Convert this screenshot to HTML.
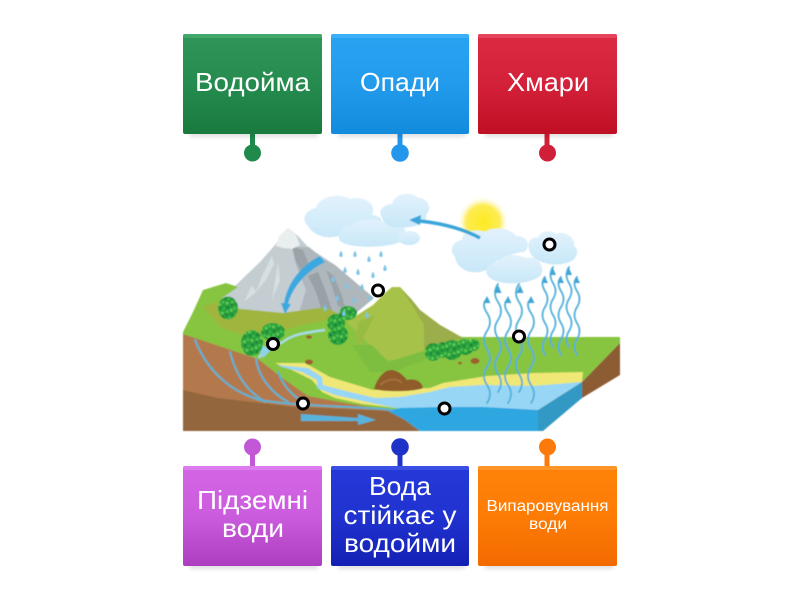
<!DOCTYPE html>
<html><head><meta charset="utf-8"><style>
html,body{margin:0;padding:0;background:#fff;width:800px;height:600px;overflow:hidden}
svg{display:block}
text{font-family:"Liberation Sans",sans-serif;fill:#fff;text-anchor:middle}
</style></head><body>
<svg width="800" height="600" viewBox="0 0 800 600" xmlns="http://www.w3.org/2000/svg">
<defs>
<linearGradient id="g1" x1="0" y1="0" x2="0" y2="1"><stop offset="0" stop-color="#2f9558"/><stop offset=".5" stop-color="#258b4e"/><stop offset="1" stop-color="#1a7a3e"/></linearGradient>
<linearGradient id="g2" x1="0" y1="0" x2="0" y2="1"><stop offset="0" stop-color="#28a3f2"/><stop offset=".5" stop-color="#229bec"/><stop offset="1" stop-color="#128bdc"/></linearGradient>
<linearGradient id="g3" x1="0" y1="0" x2="0" y2="1"><stop offset="0" stop-color="#db2a42"/><stop offset=".5" stop-color="#d4213a"/><stop offset="1" stop-color="#bf0f24"/></linearGradient>
<linearGradient id="g4" x1="0" y1="0" x2="0" y2="1"><stop offset="0" stop-color="#d466e6"/><stop offset=".5" stop-color="#cb5cdd"/><stop offset="1" stop-color="#ac3ebf"/></linearGradient>
<linearGradient id="g5" x1="0" y1="0" x2="0" y2="1"><stop offset="0" stop-color="#2439d8"/><stop offset=".5" stop-color="#2033d0"/><stop offset="1" stop-color="#1420b4"/></linearGradient>
<linearGradient id="g6" x1="0" y1="0" x2="0" y2="1"><stop offset="0" stop-color="#ff8309"/><stop offset=".5" stop-color="#fd7c06"/><stop offset="1" stop-color="#f26a00"/></linearGradient>
<linearGradient id="cl" x1="0" y1="0" x2="0" y2="1"><stop offset="0" stop-color="#e2f2fb"/><stop offset=".55" stop-color="#d3ecfa"/><stop offset="1" stop-color="#c8e7f8"/></linearGradient>
<radialGradient id="sun"><stop offset="0" stop-color="#fdea20"/><stop offset=".65" stop-color="#fdec55"/><stop offset="1" stop-color="#fff" stop-opacity="0"/></radialGradient>
<pattern id="leaf" width="13" height="11" patternUnits="userSpaceOnUse" patternTransform="rotate(27)">
<rect width="13" height="11" fill="#2aa03c"/>
<circle cx="2" cy="2" r="1.500" fill="#5fcb53"/><circle cx="7" cy="1.500" r="1.200" fill="#1a8539"/><circle cx="11" cy="3" r="1.400" fill="#4cc04f"/>
<circle cx="4.500" cy="5.500" r="1.300" fill="#17803a"/><circle cx="9" cy="6.500" r="1.500" fill="#62cc55"/><circle cx="1.500" cy="8.500" r="1.200" fill="#3db84a"/><circle cx="6" cy="9.500" r="1.300" fill="#56c651"/><circle cx="11.500" cy="9.500" r="1.200" fill="#1a8539"/>
</pattern>
<filter id="soft" x="-5%" y="-5%" width="110%" height="110%"><feGaussianBlur stdDeviation="0.5"/></filter>
<filter id="sh" x="-10%" y="-10%" width="120%" height="130%"><feGaussianBlur stdDeviation="2"/></filter>
<path id="drop" d="M0,-3.500 C1.200,-1 1.700,0 1.700,1.200 A1.700,1.700 0 0 1 -1.700,1.200 C-1.700,0 -1.200,-1 0,-3.500Z" fill="#7fc3e6"/>
</defs>

<!-- scene -->
<g filter="url(#soft)">
<circle cx="483" cy="222" r="26" fill="url(#sun)"/>
<!-- mountain -->
<path d="M288,228 L298,236 L308,247 L335,265 L374,298 L345,322 L300,318 L240,309 L220,297 L236,285 L260,262 L275,245Z" fill="#c4cdd1"/>
<path d="M292,247 L309,247 L322,258 L335,265 L374,298 L350,318 L318,316 L298,316 L306,290 L296,265Z" fill="#aeb7bb"/>
<path d="M292,247 L303,250 L310,268 L304,276 L296,262Z" fill="#9aa3a8"/>
<path d="M308,276 L318,272 L326,292 L332,310 L322,312 L316,292Z" fill="#98a1a6"/>
<path d="M326,270 L334,276 L342,296 L346,310 L338,306 L332,286Z" fill="#9aa3a8"/>
<path d="M288,228 L296,235 L300,245 L292,249 L283,248 L276,246 L279,236Z" fill="#e9eeee"/>
<path d="M272,256 L262,276 L256,292 L266,280 L274,264Z M252,285 L244,302 L256,292Z M278,262 L272,300 L280,280Z" fill="#d8dfe2"/>
<!-- base land -->
<path d="M183,332 L193,312 L203,290 L226,283 L238,287 L222,298 L240,309 L300,316 L326,309 L350,318 L392,325 L463,337 L620,337 L620,343 L582,382 L538,410 L420,425 L308,402 L280,385 L258,362 L183,338Z" fill="#87c540"/>
<!-- olive band -->
<path d="M203,307 L216,302 L240,309 L283,313 L326,307 L345,318 L326,320 L283,330 L243,335 L220,327Z" fill="#a0b53e"/>
<!-- right hill -->
<path d="M347,322 L362,312 L373,305 L385,293 L392,287 L400,287 L412,300 L420,310 L440,325 L463,338 L440,345 L420,352 L395,360 L387,360 L365,340Z" fill="#a7c24a"/>
<path d="M400,287 L412,300 L420,310 L440,325 L463,338 L440,345 L424,350 L424,325 L412,305Z" fill="#9cad4b"/>
<path d="M358,322 L375,315 L362,340 L372,358 L355,340Z" fill="#98bc43"/>
<path d="M352,345 L372,345 L388,362 L420,352 L440,352 L420,362 L392,372 L370,372Z" fill="#7dbe3f"/>
<!-- river upper -->
<path d="M259,358 C263,350 272,346 283,342 C290,336 300,333 325,330" fill="none" stroke="#a6dde5" stroke-width="2.400"/>
<path d="M259,350 L262,345 L271,350 L263,358Z" fill="#8dd3ea"/>
<!-- soil -->
<path d="M183,334 L258,359 L285,380 L308,396 L345,403 L388,410 L405,420 L420,431 L183,431Z" fill="#b3794e"/>
<path d="M183,390 L218,398 L295,407 L388,411 L405,420 L420,431 L183,431Z" fill="#94663c"/>
<!-- beach -->
<path d="M275,363 L305,363 L330,377 L373,390 L430,388 L443,383 L487,376 L533,373 L583,372 L582,382 L538,410 L405,409 L362,404 L335,398 L322,392 L312,380 L292,370Z" fill="#efe776"/>
<!-- light water -->
<path d="M277,365 L308,368 L322,377 L323,385 L342,390 L375,398 L400,397 L430,392 L450,387 L483,385 L533,386 L582,382 L538,410 L400,409 L372,403 L335,395 L317,388 L317,380 L302,372 L282,367Z" fill="#98d6f5"/>
<!-- deep water -->
<path d="M388,411 L400,408 L443,407 L483,407 L538,410 L538,431 L420,431 L405,420Z" fill="#2ea6e0"/>
<path d="M538,410 L582,382 L582,398 L543,431 L538,431Z" fill="#3399c4"/>
<path d="M582,382 L620,343 L620,375 L582,398Z" fill="#8c5c33"/>
<!-- underground streams -->
<g fill="none" stroke="#5bb2d3" stroke-linecap="round" stroke-width="2">
<path d="M195,340 C205,365 225,390 260,400 C300,407 360,406 392,410"/>
<path d="M230,352 C235,372 245,390 265,402"/>
<path d="M256,359 C258,375 270,392 288,402"/>
<path d="M278,372 C283,385 292,396 305,403"/>
</g>
<path d="M301,414 L358,418 L358,414 L376,420 L358,425 L358,421 L301,421Z" fill="#58b3dc"/>
<!-- rocks -->
<path d="M374,389 C376,381 383,370 391,370 C398,370 404,376 407,380 C414,378 422,381 423,388 C415,392 385,392 374,389Z" fill="#8f5b2c"/>
<path d="M380,385 C388,378 398,378 402,383" stroke="#a8703c" stroke-width="2" fill="none"/>
<ellipse cx="475" cy="361" rx="4.500" ry="3" fill="#9c622f"/><ellipse cx="460" cy="363" rx="2" ry="1.300" fill="#9c622f"/>
<ellipse cx="309" cy="362" rx="4" ry="2.600" fill="#9c622f"/><ellipse cx="309" cy="337" rx="3" ry="1.800" fill="#9c622f"/>
<!-- trees -->
<g fill="url(#leaf)">
<ellipse cx="228" cy="308" rx="10" ry="11.500"/>
<ellipse cx="252" cy="343" rx="11" ry="13"/><ellipse cx="273" cy="332" rx="12" ry="9"/>
<ellipse cx="336" cy="323" rx="9" ry="9"/><ellipse cx="338" cy="335" rx="10" ry="10"/><ellipse cx="348" cy="313" rx="9" ry="7"/>
<ellipse cx="433" cy="352" rx="8" ry="9"/><ellipse cx="452" cy="350" rx="10" ry="10"/><ellipse cx="465" cy="347" rx="9" ry="8"/><ellipse cx="474" cy="345" rx="5.500" ry="6"/><ellipse cx="442" cy="350" rx="6" ry="8"/>
</g>
<!-- clouds -->
<g fill="url(#cl)">
<path d="M308,226 C300,219 307,209 316,208 C318,197 340,192 350,199 C362,195 378,203 372,215 C385,216 384,226 375,232 C360,245 345,242 338,236 C325,240 312,234 308,226Z"/>
<path d="M340,241 C335,232 345,225 352,226 C358,218 375,218 382,222 C392,216 410,225 405,238 C400,248 350,250 340,241Z"/>
<path d="M382,218 C376,208 388,204 392,204 C394,193 412,191 418,198 C428,197 433,210 426,214 C429,224 410,229 400,227 C392,229 384,224 382,218Z"/>
<ellipse cx="409" cy="238" rx="11" ry="7"/>
<path d="M455,257 C447,248 456,240 462,240 C462,230 478,229 485,232 C492,226 512,228 516,236 C530,236 530,248 524,252 C515,252 505,258 495,262 C492,272 470,276 462,268 C458,266 456,262 455,257Z"/>
<path d="M488,276 C482,268 492,262 498,262 C505,252 520,255 526,258 C536,255 546,265 541,275 C530,286 496,286 488,276Z"/>
<path d="M529,249 C526,240 534,236 538,238 C540,230 552,230 556,234 C564,230 576,238 574,246 C582,252 574,262 566,263 C550,268 530,260 529,249Z"/>
</g>
<!-- cloud arrow -->
<path d="M480,238 C460,227 438,223 420,221" fill="none" stroke="#3ba5d9" stroke-width="3.400"/>
<path d="M409,220 L421,215 L420,225Z" fill="#3ba5d9"/>
<!-- mountain arrow -->
<path d="M320,256 L325,262 C305,272 292,288 288,304 L284,304 C287,284 300,266 320,256Z" fill="#3ba9e0"/>
<path d="M281,303 L291,304 L285,314Z" fill="#3ba9e0"/>
<!-- rain -->
<g>
<use href="#drop" x="341" y="254"/><use href="#drop" x="355" y="254"/><use href="#drop" x="369" y="259"/><use href="#drop" x="381" y="254"/>
<use href="#drop" x="345" y="270"/><use href="#drop" x="358" y="272"/><use href="#drop" x="373" y="275"/><use href="#drop" x="385" y="268"/>
<use href="#drop" x="333" y="279"/><use href="#drop" x="347" y="286"/><use href="#drop" x="362" y="287"/>
<use href="#drop" x="337" y="298"/><use href="#drop" x="354" y="300"/><use href="#drop" x="370" y="298"/>
<use href="#drop" x="344" y="313"/><use href="#drop" x="367" y="315"/><use href="#drop" x="325" y="308"/>
</g>
<!-- vapour -->
<g fill="none" stroke="#52b0d9" stroke-width="1.800" stroke-linecap="round">
<path d="M487,403 q6,-9 0,-18 t0,-18 t0,-18 t0,-18 t0,-18 t0,-14"/>
<path d="M498,392 q6,-9 0,-18 t0,-18 t0,-18 t0,-18 t0,-18 t0,-18"/>
<path d="M508,403 q6,-9 0,-18 t0,-18 t0,-18 t0,-18 t0,-18 t0,-14"/>
<path d="M519,392 q6,-9 0,-18 t0,-18 t0,-18 t0,-18 t0,-18 t0,-18"/>
<path d="M531,403 q6,-9 0,-18 t0,-18 t0,-18 t0,-18 t0,-18 t0,-14"/>
<path d="M545,355 q-5,-8 0,-16 t0,-16 t0,-16 t0,-16 t0,-14"/>
<path d="M553,347 q-5,-8 0,-16 t0,-16 t0,-16 t0,-16 t0,-16"/>
<path d="M561,355 q-5,-8 0,-16 t0,-16 t0,-16 t0,-16 t0,-14"/>
<path d="M569,347 q-5,-8 0,-16 t0,-16 t0,-16 t0,-16 t0,-16"/>
<path d="M577,355 q-5,-8 0,-16 t0,-16 t0,-16 t0,-16 t0,-14"/>
</g>
<g fill="#3fa6d6">
<path d="M487,296 L490.500,303 L483.500,303Z"/><path d="M498,285 L501.500,293 L494.500,293Z"/><path d="M508,296 L511.500,303 L504.500,303Z"/><path d="M520,285 L523.500,293 L516.500,293Z"/><path d="M531,296 L534.500,303 L527.500,303Z"/>
<path d="M545,277 L548,283 L542,283Z"/><path d="M553,268 L556,275 L550,275Z"/><path d="M561,277 L564,283 L558,283Z"/><path d="M569,268 L572,275 L566,275Z"/><path d="M577,277 L580,283 L574,283Z"/>
</g>
</g>
<!-- markers -->
<g fill="#fff" stroke="#000" stroke-width="3">
<circle cx="549.500" cy="244.500" r="5.500"/><circle cx="378" cy="290.500" r="5.500"/><circle cx="273" cy="344" r="5.500"/>
<circle cx="519" cy="336.500" r="5.500"/><circle cx="303" cy="403.500" r="5.500"/><circle cx="444.500" cy="408.500" r="5.500"/>
</g>

<!-- stems and dots -->
<rect x="250" y="132" width="5" height="20" fill="#1f8a4c"/><circle cx="252.500" cy="153" r="8.500" fill="#1f8a4c"/>
<rect x="397.500" y="132" width="5" height="20" fill="#2196ea"/><circle cx="400" cy="153" r="8.800" fill="#2196ea"/>
<rect x="544.500" y="132" width="5" height="20" fill="#d01f38"/><circle cx="547.500" cy="153" r="8.500" fill="#d01f38"/>
<rect x="250" y="447" width="5" height="21" fill="#c258d6"/><circle cx="252.500" cy="447" r="8.500" fill="#c258d6"/>
<rect x="397.500" y="447" width="5" height="21" fill="#1f33c8"/><circle cx="400" cy="447" r="8.800" fill="#1f33c8"/>
<rect x="544.500" y="447" width="5" height="21" fill="#fb7a0a"/><circle cx="547.500" cy="447" r="8.500" fill="#fb7a0a"/>

<!-- box shadows -->
<g fill="#000" opacity=".12" filter="url(#sh)">
<rect x="190" y="126" width="128" height="11"/><rect x="338" y="126" width="127" height="11"/><rect x="485" y="126" width="128" height="11"/>
<rect x="190" y="558" width="128" height="11"/><rect x="338" y="558" width="127" height="11"/><rect x="485" y="558" width="128" height="11"/>
</g>
<!-- boxes -->
<g>
<rect x="183" y="34" width="139" height="100" rx="2" fill="url(#g1)"/><rect x="183" y="34" width="139" height="4" rx="2" fill="#42a76b"/>
<rect x="331" y="34" width="138" height="100" rx="2" fill="url(#g2)"/><rect x="331" y="34" width="138" height="4" rx="2" fill="#3cb0f7"/>
<rect x="478" y="34" width="139" height="100" rx="2" fill="url(#g3)"/><rect x="478" y="34" width="139" height="4" rx="2" fill="#e6445c"/>
<rect x="183" y="466" width="139" height="100" rx="2" fill="url(#g4)"/><rect x="183" y="466" width="139" height="4" rx="2" fill="#dd7cee"/>
<rect x="331" y="466" width="138" height="100" rx="2" fill="url(#g5)"/><rect x="331" y="466" width="138" height="4" rx="2" fill="#3a4fe3"/>
<rect x="478" y="466" width="139" height="100" rx="2" fill="url(#g6)"/><rect x="478" y="466" width="139" height="4" rx="2" fill="#ff9428"/>
</g>
<!-- labels -->
<g font-size="26">
<text x="252.500" y="91" textLength="115" lengthAdjust="spacingAndGlyphs">Водойма</text>
<text x="400" y="91" textLength="80" lengthAdjust="spacingAndGlyphs">Опади</text>
<text x="548" y="91" textLength="82" lengthAdjust="spacingAndGlyphs">Хмари</text>
<text x="252.500" y="509" textLength="111" lengthAdjust="spacingAndGlyphs">Підземні</text>
<text x="253" y="537" textLength="62" lengthAdjust="spacingAndGlyphs">води</text>
<text x="400" y="495" textLength="62" lengthAdjust="spacingAndGlyphs">Вода</text>
<text x="400" y="524" textLength="113" lengthAdjust="spacingAndGlyphs">стійкає у</text>
<text x="400" y="552" textLength="112" lengthAdjust="spacingAndGlyphs">водойми</text>
</g>
<g font-size="16">
<text x="547.500" y="511" textLength="122" lengthAdjust="spacingAndGlyphs">Випаровування</text>
<text x="548" y="529" textLength="38" lengthAdjust="spacingAndGlyphs">води</text>
</g>
</svg>
</body></html>
